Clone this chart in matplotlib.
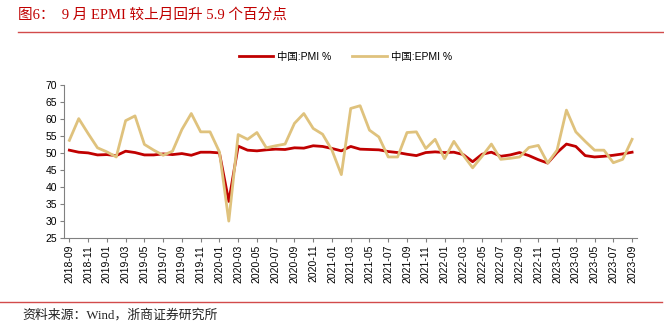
import matplotlib
matplotlib.use("Agg")
import matplotlib.pyplot as plt
import numpy as np
from matplotlib.lines import Line2D

plt.rcParams['font.family'] = ['Liberation Sans', 'Noto Sans CJK SC']

# monthly 2018-09 .. 2023-09
months = [f"{y}-{m:02d}" for y in range(2018, 2024) for m in range(1, 13)]
months = months[months.index("2018-09"):months.index("2023-09") + 1]

pmi = [50.8, 50.2, 50.0, 49.4, 49.5, 49.2, 50.5, 50.1, 49.4, 49.4, 49.7, 49.5,
       49.8, 49.3, 50.2, 50.2, 50.0, 35.7, 52.0, 50.8, 50.6, 50.9, 51.1, 51.0,
       51.5, 51.4, 52.1, 51.9, 51.3, 50.6, 51.9, 51.1, 51.0, 50.9, 50.4, 50.1,
       49.6, 49.2, 50.1, 50.3, 50.1, 50.2, 49.5, 47.4, 49.6, 50.2, 49.0, 49.4,
       50.1, 49.2, 48.0, 47.0, 50.1, 52.6, 51.9, 49.2, 48.8, 49.0, 49.3, 49.7,
       50.2]
epmi = [53.7, 60.1, 55.7, 51.5, 50.3, 48.8, 59.5, 60.9, 52.5, 50.8, 49.3, 50.5,
        56.9, 61.6, 56.2, 56.2, 50.3, 29.9, 55.4, 54.0, 56.0, 51.5, 52.1, 52.6,
        58.7, 61.6, 57.2, 55.5, 50.8, 43.6, 63.1, 63.9, 56.7, 54.7, 48.8, 48.8,
        56.0, 56.2, 51.3, 54.0, 48.3, 53.4, 49.3, 45.6, 49.0, 52.6, 48.1, 48.4,
        48.8, 51.6, 52.2, 47.0, 50.8, 62.6, 56.2, 53.4, 50.8, 50.8, 47.1, 48.1,
        54.0]

RED = '#C00000'
TAN = '#DFC27D'
RULE = '#D24B4B'

fig = plt.figure(figsize=(6.64, 3.27), dpi=100)
ax = fig.add_axes([0.0964, 0.273, 0.959 - 0.0964, 0.740 - 0.273])

x = np.arange(len(months))
ax.plot(x, pmi, color=RED, lw=2)
ax.plot(x, epmi, color=TAN, lw=2)

ax.set_xlim(-0.57, len(months) - 0.5)
ax.set_ylim(25, 70)
ax.set_yticks(range(25, 71, 5))
ax.set_xticks(x[::2])
ax.set_xticklabels(months[::2], rotation=90, fontsize=7.5)
ax.tick_params(axis='y', labelsize=7.5, length=3, color='#808080', pad=2)
ax.tick_params(axis='x', length=3, color='#808080', pad=2)
for s in ['top', 'right']:
    ax.spines[s].set_visible(False)
for s in ['left', 'bottom']:
    ax.spines[s].set_color('#808080')
    ax.spines[s].set_linewidth(0.8)

handles = [Line2D([], [], color=RED, lw=2), Line2D([], [], color=TAN, lw=2)]
fig.legend(handles, ['中国:PMI %', '中国:EPMI %'], loc='center', bbox_to_anchor=(0.52, 1 - 57 / 327),
           ncol=2, frameon=False, fontsize=7.5, handlelength=3.3, columnspacing=2.0, handletextpad=0.4)

serif = ['Liberation Serif', 'Noto Sans CJK SC']
fig.text(18 / 664, 1 - 15 / 327, '图6：  9 月 EPMI 较上月回升 5.9 个百分点', color=RED,
         fontsize=10.5, family=serif, va='center', ha='left')
fig.add_artist(Line2D([18 / 664, 1], [1 - 32 / 327] * 2, color=RULE, lw=1))
fig.add_artist(Line2D([0, 662 / 664], [1 - 302 / 327] * 2, color=RULE, lw=1))
fig.text(22 / 664, 1 - 315 / 327, '资料来源：Wind，浙商证券研究所', color='#222222',
         fontsize=9.3, family=serif, va='center', ha='left')

fig.savefig('out.png', dpi=100)
